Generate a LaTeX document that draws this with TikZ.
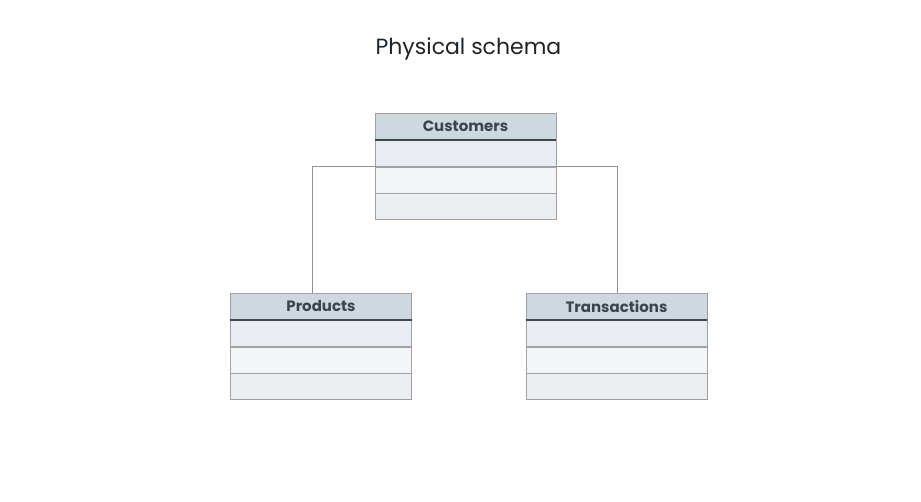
\documentclass[tikz,border=0pt]{standalone}
\usepackage{fontspec}
\setmainfont{Poppins}
\usepackage{xcolor}
\usetikzlibrary{positioning}

\definecolor{tblborder}{HTML}{9EA2A7}
\definecolor{headfill}{HTML}{CDD8DF}
\definecolor{headline}{HTML}{3D4950}
\definecolor{headtext}{HTML}{3A454D}
\definecolor{rowa}{HTML}{E9ECF0}
\definecolor{rowb}{HTML}{F4F5F7}
\definecolor{rowc}{HTML}{ECEEF1}
\definecolor{linkcol}{HTML}{8E9297}
\definecolor{titlecol}{HTML}{1F2326}

\tikzset{
  thead/.style={draw=tblborder, fill=headfill, minimum width=181pt, minimum height=27pt,
    inner sep=0pt, text=headtext, font=\fontsize{15}{17}\selectfont\bfseries},
  trow/.style={draw=tblborder, minimum width=181pt, minimum height=26pt, inner sep=0pt},
  link/.style={draw=linkcol, line width=0.9pt}
}

\begin{document}
\begin{tikzpicture}[x=1pt, y=-1pt, node distance=0pt]
  \useasboundingbox (0,0) rectangle (921,501);

  \node[text=titlecol, font=\fontsize{22}{26}\selectfont] (title) at (468.5,49) {Physical schema};

  % connectors
  \coordinate (jl) at (312,166);
  \coordinate (jr) at (617,166);
  \draw[link] (jl) -- (jr);

  % customers table
  \node[thead]                    (cust)  at (465.5,126.5) {Customers};
  \node[trow, fill=rowa] (cust1) [below=of cust]  {};
  \node[trow, fill=rowb] (cust2) [below=of cust1] {};
  \node[trow, fill=rowc] (cust3) [below=of cust2] {};
  \draw[headline, line width=1.6pt] (cust.south west) -- (cust.south east);

  % products table
  \node[thead]                    (prod)  at (321,306.5) {Products};
  \node[trow, fill=rowa] (prod1) [below=of prod]  {};
  \node[trow, fill=rowb] (prod2) [below=of prod1] {};
  \node[trow, fill=rowc] (prod3) [below=of prod2] {};
  \draw[headline, line width=1.6pt] (prod.south west) -- (prod.south east);

  % transactions table
  \node[thead]                    (trans)  at (616.5,306.5) {Transactions};
  \node[trow, fill=rowa] (trans1) [below=of trans]  {};
  \node[trow, fill=rowb] (trans2) [below=of trans1] {};
  \node[trow, fill=rowc] (trans3) [below=of trans2] {};
  \draw[headline, line width=1.6pt] (trans.south west) -- (trans.south east);

  \draw[link] (jl) -- (jl |- prod.north);
  \draw[link] (jr) -- (jr |- trans.north);
\end{tikzpicture}
\end{document}
